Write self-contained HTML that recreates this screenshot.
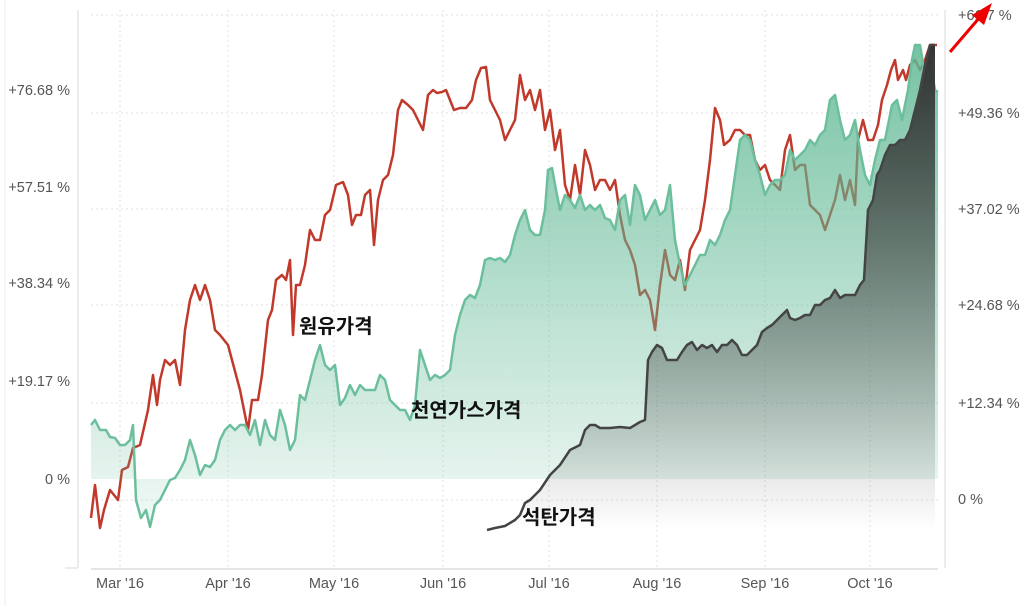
<!DOCTYPE html>
<html><head><meta charset="utf-8"><style>
body{margin:0;background:#fff;}
svg text{font-family:"Liberation Sans",sans-serif;}
.k{font-family:"Liberation Sans","Noto Sans CJK KR",sans-serif;font-weight:bold;font-size:20px;fill:#111;}
</style></head><body>
<svg width="1029" height="606" viewBox="0 0 1029 606" xmlns="http://www.w3.org/2000/svg">
<defs>
<linearGradient id="gg" x1="0" y1="0" x2="0" y2="1"><stop offset="0" stop-color="#5fb894" stop-opacity="0.85"/><stop offset="1" stop-color="#5fb894" stop-opacity="0.08"/></linearGradient>
<linearGradient id="cg" x1="0" y1="0" x2="0" y2="1"><stop offset="0" stop-color="#333" stop-opacity="1"/><stop offset="1" stop-color="#333" stop-opacity="0"/></linearGradient>
</defs>
<rect x="0" y="0" width="1029" height="606" fill="#fff"/>
<line x1="5" y1="0" x2="5" y2="606" stroke="#eee"/>
<g stroke="#e2e2e2" stroke-dasharray="2,3">
<line x1="91" y1="15" x2="938" y2="15"/><line x1="91" y1="113" x2="938" y2="113"/><line x1="91" y1="209" x2="938" y2="209"/><line x1="91" y1="305" x2="938" y2="305"/><line x1="91" y1="403" x2="938" y2="403"/><line x1="91" y1="500" x2="938" y2="500"/>
<line x1="120" y1="10" x2="120" y2="568"/><line x1="228" y1="10" x2="228" y2="568"/><line x1="334" y1="10" x2="334" y2="568"/><line x1="443" y1="10" x2="443" y2="568"/><line x1="549" y1="10" x2="549" y2="568"/><line x1="657" y1="10" x2="657" y2="568"/><line x1="765" y1="10" x2="765" y2="568"/><line x1="870" y1="10" x2="870" y2="568"/>
</g>
<line x1="78" y1="10" x2="78" y2="568" stroke="#ececec" stroke-width="2"/>
<line x1="945" y1="10" x2="945" y2="568" stroke="#ececec" stroke-width="2"/>
<line x1="65" y1="568" x2="78" y2="568" stroke="#ececec" stroke-width="2"/>
<line x1="91" y1="569" x2="938" y2="569" stroke="#e6e6e6" stroke-width="2"/>
<g font-size="14.5" fill="#555" text-anchor="end">
<text x="70" y="95">+76.68 %</text><text x="70" y="192">+57.51 %</text><text x="70" y="288">+38.34 %</text><text x="70" y="386">+19.17 %</text><text x="70" y="484">0 %</text>
</g>
<g font-size="14.5" fill="#555">
<text x="958" y="20">+61.7 %</text><text x="958" y="118">+49.36 %</text><text x="958" y="214">+37.02 %</text><text x="958" y="310">+24.68 %</text><text x="958" y="408">+12.34 %</text><text x="958" y="504">0 %</text>
</g>
<g font-size="14.5" fill="#555" text-anchor="middle">
<text x="120" y="588">Mar '16</text><text x="228" y="588">Apr '16</text><text x="334" y="588">May '16</text><text x="443" y="588">Jun '16</text><text x="549" y="588">Jul '16</text><text x="657" y="588">Aug '16</text><text x="765" y="588">Sep '16</text><text x="870" y="588">Oct '16</text>
</g>
<polyline fill="none" stroke="#c0392b" stroke-width="2.5" stroke-linejoin="round" points="91,518 95,485 100,528 104,510 110,490 118,500 122,470 128,467 133,448 140,445 148,410 153,375 157,405 160,380 165,360 170,365 175,360 180,385 185,330 190,300 195,285 200,300 205,285 210,300 215,330 220,335 228,345 240,390 248,430 252,400 258,400 262,375 268,320 272,310 276,280 282,275 286,280 290,260 293,335 296,285 300,285 305,265 310,230 315,240 320,240 325,215 330,210 336,185 343,182 348,195 352,225 356,215 361,215 365,195 370,190 374,245 378,200 383,180 388,175 393,155 398,110 402,100 408,105 413,110 418,120 423,130 428,95 433,90 437,93 442,92 446,90 450,100 454,110 460,108 466,108 472,100 476,80 481,68 486,67 490,100 495,110 500,120 505,140 510,130 515,120 520,75 525,100 530,90 535,110 540,90 545,130 550,110 555,150 560,130 565,185 570,200 575,165 580,195 585,150 590,165 595,190 600,180 605,180 610,190 615,180 620,215 625,240 630,250 635,265 640,295 645,290 650,300 655,330 660,285 665,250 670,275 675,280 680,260 685,290 690,250 695,240 700,230 705,200 710,160 715,108 720,120 724,145 730,140 735,130 740,130 745,135 750,135 755,160 760,170 765,165 770,180 775,185 780,190 785,150 790,135 795,170 800,165 805,165 810,205 815,210 820,215 825,230 830,215 835,200 840,175 845,200 850,180 855,205 858,140 863,120 868,140 873,140 878,125 882,100 887,85 891,70 895,60 898,80 903,70 906,80 910,65 915,60 920,70 925,60 930,45 937,45"/>
<path fill="url(#gg)" stroke="none" d="M91,479 L91,425 L95,420 L100,430 L106,430 L110,437 L115,438 L120,445 L125,445 L130,440 L133,425 L136,500 L141,518 L146,510 L150,527 L155,505 L160,500 L165,490 L170,480 L175,478 L180,470 L185,460 L190,440 L195,455 L200,475 L205,465 L210,467 L215,460 L220,440 L225,430 L230,425 L235,430 L240,425 L245,425 L250,435 L255,420 L260,445 L265,420 L270,435 L275,440 L280,410 L285,425 L290,450 L295,440 L300,395 L305,400 L310,380 L315,360 L320,345 L325,365 L330,370 L335,365 L340,405 L345,398 L350,385 L355,395 L360,385 L365,390 L370,390 L375,390 L380,375 L385,380 L390,400 L395,405 L400,410 L405,410 L410,420 L415,405 L420,350 L425,365 L430,380 L435,375 L440,378 L445,375 L450,370 L455,335 L460,315 L465,300 L470,295 L475,298 L480,285 L485,260 L490,258 L495,260 L500,258 L505,262 L510,255 L515,235 L520,220 L525,210 L530,230 L535,235 L540,235 L545,210 L548,170 L552,168 L556,190 L560,210 L565,195 L570,200 L575,208 L580,195 L585,210 L590,205 L595,210 L600,205 L605,218 L610,220 L615,230 L620,200 L625,195 L630,225 L635,185 L640,195 L645,220 L650,210 L655,200 L660,215 L665,210 L670,185 L675,240 L680,265 L685,285 L690,275 L695,265 L700,255 L705,255 L710,240 L715,245 L720,235 L725,220 L730,210 L735,175 L740,140 L745,135 L750,140 L755,160 L760,175 L765,195 L770,185 L775,180 L780,180 L785,175 L790,150 L795,160 L800,155 L805,150 L810,140 L815,145 L820,135 L825,130 L830,100 L835,95 L840,120 L845,140 L850,135 L855,120 L860,150 L865,175 L870,185 L875,160 L880,140 L885,140 L888,125 L892,105 L897,100 L902,120 L908,90 L912,60 L915,45 L920,45 L925,75 L930,60 L935,90 L938,92 L938,479 Z"/>
<polyline fill="none" stroke="#6cbf9c" stroke-width="2.5" stroke-linejoin="round" points="91,425 95,420 100,430 106,430 110,437 115,438 120,445 125,445 130,440 133,425 136,500 141,518 146,510 150,527 155,505 160,500 165,490 170,480 175,478 180,470 185,460 190,440 195,455 200,475 205,465 210,467 215,460 220,440 225,430 230,425 235,430 240,425 245,425 250,435 255,420 260,445 265,420 270,435 275,440 280,410 285,425 290,450 295,440 300,395 305,400 310,380 315,360 320,345 325,365 330,370 335,365 340,405 345,398 350,385 355,395 360,385 365,390 370,390 375,390 380,375 385,380 390,400 395,405 400,410 405,410 410,420 415,405 420,350 425,365 430,380 435,375 440,378 445,375 450,370 455,335 460,315 465,300 470,295 475,298 480,285 485,260 490,258 495,260 500,258 505,262 510,255 515,235 520,220 525,210 530,230 535,235 540,235 545,210 548,170 552,168 556,190 560,210 565,195 570,200 575,208 580,195 585,210 590,205 595,210 600,205 605,218 610,220 615,230 620,200 625,195 630,225 635,185 640,195 645,220 650,210 655,200 660,215 665,210 670,185 675,240 680,265 685,285 690,275 695,265 700,255 705,255 710,240 715,245 720,235 725,220 730,210 735,175 740,140 745,135 750,140 755,160 760,175 765,195 770,185 775,180 780,180 785,175 790,150 795,160 800,155 805,150 810,140 815,145 820,135 825,130 830,100 835,95 840,120 845,140 850,135 855,120 860,150 865,175 870,185 875,160 880,140 885,140 888,125 892,105 897,100 902,120 908,90 912,60 915,45 920,45 925,75 930,60 935,90 938,92"/>
<path fill="url(#cg)" d="M487,530 L495,528 L505,526 L515,520 L520,515 L525,503 L530,500 L540,490 L550,475 L560,465 L570,450 L580,445 L585,430 L590,425 L595,425 L600,428 L610,428 L620,427 L630,428 L640,422 L645,420 L648,360 L652,352 L657,345 L662,348 L667,360 L672,360 L677,360 L682,352 L687,345 L692,342 L697,350 L702,345 L707,348 L712,345 L717,352 L722,345 L727,345 L732,340 L737,345 L742,355 L747,355 L752,350 L757,345 L762,332 L767,328 L772,325 L777,320 L782,315 L787,310 L790,318 L795,320 L800,318 L805,315 L810,315 L815,305 L820,305 L825,300 L830,298 L835,290 L840,298 L845,295 L850,295 L855,295 L860,285 L864,280 L868,210 L873,200 L877,175 L880,170 L885,155 L890,145 L895,145 L900,140 L905,140 L910,130 L915,110 L920,90 L925,65 L930,45 L935,45 L935,530 Z"/>
<polyline fill="none" stroke="#444" stroke-width="2.5" stroke-linejoin="round" points="487,530 495,528 505,526 515,520 520,515 525,503 530,500 540,490 550,475 560,465 570,450 580,445 585,430 590,425 595,425 600,428 610,428 620,427 630,428 640,422 645,420 648,360 652,352 657,345 662,348 667,360 672,360 677,360 682,352 687,345 692,342 697,350 702,345 707,348 712,345 717,352 722,345 727,345 732,340 737,345 742,355 747,355 752,350 757,345 762,332 767,328 772,325 777,320 782,315 787,310 790,318 795,320 800,318 805,315 810,315 815,305 820,305 825,300 830,298 835,290 840,298 845,295 850,295 855,295 860,285 864,280 868,210 873,200 877,175 880,170 885,155 890,145 895,145 900,140 905,140 910,130 915,110 920,90 925,65 930,45 935,45"/>
<text class="k" x="299" y="333">원유가격</text>
<text class="k" x="411" y="417">천연가스가격</text>
<text class="k" x="522" y="524">석탄가격</text>
<line x1="950" y1="52" x2="980" y2="17" stroke="#e00" stroke-width="3"/>
<polygon points="992,3 972,15 984,25" fill="#e00"/>
</svg>
</body></html>
